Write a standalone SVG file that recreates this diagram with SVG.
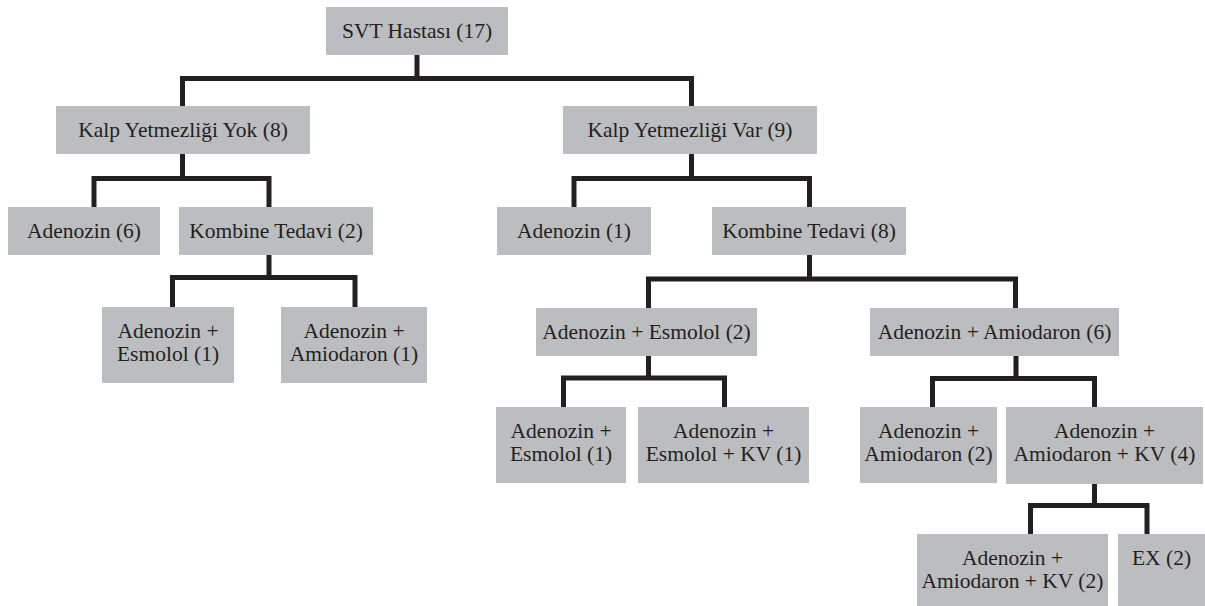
<svg xmlns="http://www.w3.org/2000/svg" width="1205" height="606" viewBox="0 0 1205 606">
<style>
.box{fill:#bcbdc0}
text{font-family:"Liberation Serif","Times New Roman","DejaVu Serif",serif;font-size:21.5px;fill:#231f20;text-anchor:middle}
.c{fill:none;stroke:#231f20;stroke-width:5;stroke-linejoin:miter;stroke-linecap:butt}
</style>
<rect width="1205" height="606" fill="#ffffff"/>
<g id="connectors">
<path class="c" d="M417,55 V78.5 M182.5,106 V78.5 H691.5 V106"/>
<path class="c" d="M182.5,154 V178.5 M94,207 V178.5 H269 V207"/>
<path class="c" d="M691.5,154 V178.5 M574,207 V178.5 H809.5 V207"/>
<path class="c" d="M269,255 V277.5 M172.5,307 V277.5 H355 V307"/>
<path class="c" d="M809.5,255 V279 M648.5,308 V279 H1015.5 V308"/>
<path class="c" d="M648.5,356 V378 M563.5,407 V378 H724.5 V407"/>
<path class="c" d="M1016,356 V378.5 M932.5,407 V378.5 H1094.5 V407"/>
<path class="c" d="M1094.5,484 V505.5 M1030.5,534 V505.5 H1147 V534"/>
</g>
<g font-family="Liberation Serif, Times New Roman, DejaVu Serif, serif" font-size="21.5" text-anchor="middle" fill="#231f20">
<g id="n_svt"><rect class="box" x="326" y="7" width="182" height="48"/><text x="417" y="38">SVT Hastası (17)</text></g>
<g id="n_yok"><rect class="box" x="56" y="106" width="254" height="48"/><text x="183" y="137">Kalp Yetmezliği Yok (8)</text></g>
<g id="n_var"><rect class="box" x="563" y="106" width="254" height="48"/><text x="690" y="137">Kalp Yetmezliği Var (9)</text></g>
<g id="n_aden6"><rect class="box" x="8" y="207" width="152" height="48"/><text x="84" y="238">Adenozin (6)</text></g>
<g id="n_komb2"><rect class="box" x="179" y="207" width="194" height="48"/><text x="276" y="238">Kombine Tedavi (2)</text></g>
<g id="n_aden1"><rect class="box" x="497" y="207" width="154" height="48"/><text x="574" y="238">Adenozin (1)</text></g>
<g id="n_komb8"><rect class="box" x="712" y="207" width="194" height="48"/><text x="809" y="238">Kombine Tedavi (8)</text></g>
<g id="n_ae1a"><rect class="box" x="102" y="307" width="132" height="76"/><text x="168" y="337.5">Adenozin +</text><text x="168" y="360.5">Esmolol (1)</text></g>
<g id="n_aa1a"><rect class="box" x="281" y="307" width="146" height="76"/><text x="354" y="337.5">Adenozin +</text><text x="354" y="360.5">Amiodaron (1)</text></g>
<g id="n_ae2"><rect class="box" x="536" y="308" width="221" height="48"/><text x="646.5" y="338.5">Adenozin + Esmolol (2)</text></g>
<g id="n_aa6"><rect class="box" x="870" y="308" width="249" height="48"/><text x="994.5" y="338.5">Adenozin + Amiodaron (6)</text></g>
<g id="n_ae1b"><rect class="box" x="496" y="407" width="130" height="76"/><text x="561" y="437.5">Adenozin +</text><text x="561" y="460.5">Esmolol (1)</text></g>
<g id="n_aekv1"><rect class="box" x="638" y="407" width="171" height="76"/><text x="723.5" y="437.5">Adenozin +</text><text x="723.5" y="460.5">Esmolol + KV (1)</text></g>
<g id="n_aa2"><rect class="box" x="860" y="407" width="137" height="76"/><text x="928.5" y="437.5">Adenozin +</text><text x="928.5" y="460.5">Amiodaron (2)</text></g>
<g id="n_aakv4"><rect class="box" x="1006" y="407" width="197" height="77"/><text x="1104.5" y="437.5">Adenozin +</text><text x="1104.5" y="460.5">Amiodaron + KV (4)</text></g>
<g id="n_aakv2"><rect class="box" x="917" y="534" width="191" height="76"/><text x="1012.5" y="565">Adenozin +</text><text x="1012.5" y="588">Amiodaron + KV (2)</text></g>
<g id="n_ex2"><rect class="box" x="1118" y="534" width="87" height="76"/><text x="1161.5" y="565">EX (2)</text></g>
</g>
</svg>
